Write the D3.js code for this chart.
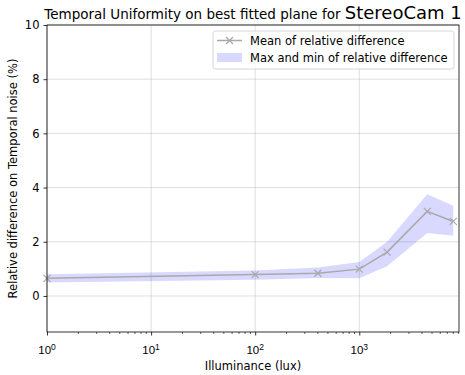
<!DOCTYPE html>
<html>
<head>
<meta charset="utf-8">
<script src="https://cdn.jsdelivr.net/npm/d3@7"></script>
<style>
  body { margin: 0; background: #fff; }
  svg { font-family: "DejaVu Sans", sans-serif; }
</style>
</head>
<body>
<svg id="chart" width="465" height="375"></svg>
<script>
// Illuminance levels (lux) and relative difference statistics (%)
const illuminance = [1, 100, 400, 1000, 1850, 4500, 8000];
const meanDiff    = [0.65, 0.79, 0.84, 0.99, 1.62, 3.12, 2.75];
const maxDiff     = [0.80, 0.94, 1.05, 1.25, 2.00, 3.75, 3.33];
const minDiff     = [0.50, 0.60, 0.66, 0.65, 1.10, 2.32, 2.22];
const yTicks = [0, 2, 4, 6, 8, 10];
const xTicks = [1, 10, 100, 1000];

const svg = d3.select("#chart");
const margin = { left: 47, right: 6, top: 25, bottom: 43 };
const W = 465, H = 375;
const FS = 11.5;

const x = d3.scaleLog().domain([1, 9080]).range([margin.left, W - margin.right]);
const y = d3.scaleLinear().domain([-1.33, 10]).range([H - margin.bottom, margin.top]);

const data = illuminance.map((v, i) => ({ x: v, mean: meanDiff[i], max: maxDiff[i], min: minDiff[i] }));

// grid
const grid = svg.append("g");
grid.selectAll("line.gx").data(xTicks).join("line")
  .attr("x1", d => x(d)).attr("x2", d => x(d))
  .attr("y1", y.range()[0]).attr("y2", y.range()[1])
  .attr("stroke", "#b0b0b0").attr("stroke-opacity", 0.5).attr("stroke-width", 0.8);
grid.selectAll("line.gy").data(yTicks).join("line")
  .attr("y1", d => y(d)).attr("y2", d => y(d))
  .attr("x1", x.range()[0]).attr("x2", x.range()[1])
  .attr("stroke", "#b0b0b0").attr("stroke-opacity", 0.5).attr("stroke-width", 0.8);

// band between min and max
svg.append("path").datum(data)
  .attr("d", d3.area().x(d => x(d.x)).y0(d => y(d.min)).y1(d => y(d.max)))
  .attr("fill", "blue").attr("fill-opacity", 0.15);

// mean line
svg.append("path").datum(data)
  .attr("d", d3.line().x(d => x(d.x)).y(d => y(d.mean)))
  .attr("fill", "none").attr("stroke", "#a9a9a9").attr("stroke-width", 1.5);

const cross = (g, cx, cy, s) => {
  g.append("path")
    .attr("d", `M${cx - s},${cy - s}L${cx + s},${cy + s}M${cx - s},${cy + s}L${cx + s},${cy - s}`)
    .attr("stroke", "#a9a9a9").attr("stroke-width", 1.2).attr("fill", "none");
};
const marks = svg.append("g");
data.forEach(d => cross(marks, x(d.x), y(d.mean), 3.5));

// axes
const xAxis = d3.axisBottom(x).tickValues(xTicks).tickSize(3.5).tickFormat(() => "");
const gx = svg.append("g").attr("transform", `translate(0,${y.range()[0]})`).call(xAxis);
gx.select(".domain").remove();
// minor ticks
const minor = [];
for (let e = 0; e < 4; e++) for (let k = 2; k <= 9; k++) { const v = k * Math.pow(10, e); if (v <= 9080) minor.push(v); }
gx.selectAll("line.minor").data(minor).join("line").attr("class", "minor")
  .attr("x1", d => x(d)).attr("x2", d => x(d)).attr("y1", 0).attr("y2", 2)
  .attr("stroke", "#000").attr("stroke-width", 0.6);
gx.selectAll(".tick line").attr("stroke-width", 0.8);
// x tick labels with superscript
xTicks.forEach(v => {
  const t = gx.append("text").attr("x", x(v)).attr("y", 22).attr("text-anchor", "middle")
    .attr("font-size", FS).attr("fill", "#000");
  t.append("tspan").text("10");
  t.append("tspan").attr("dy", -4.5).attr("font-size", 8.5).text(Math.round(Math.log10(v)));
});

const yAxis = d3.axisLeft(y).tickValues(yTicks).tickSize(3.5).tickPadding(4).tickFormat(d3.format("d"));
const gy = svg.append("g").attr("transform", `translate(${x.range()[0]},0)`).call(yAxis);
gy.select(".domain").remove();
gy.selectAll(".tick text").attr("font-size", FS).attr("font-family", "DejaVu Sans").attr("fill", "#000");
gy.selectAll(".tick line").attr("stroke-width", 0.8);

// frame
svg.append("rect")
  .attr("x", x.range()[0]).attr("y", y.range()[1])
  .attr("width", x.range()[1] - x.range()[0]).attr("height", y.range()[0] - y.range()[1])
  .attr("fill", "none").attr("stroke", "#000").attr("stroke-width", 0.8);

// labels
svg.append("text").attr("x", (x.range()[0] + x.range()[1]) / 2).attr("y", 370)
  .attr("text-anchor", "middle").attr("font-size", FS).text("Illuminance (lux)");
svg.append("text")
  .attr("transform", `translate(17,${(y.range()[0] + y.range()[1]) / 2}) rotate(-90)`)
  .attr("text-anchor", "middle").attr("font-size", FS).text("Relative difference on Temporal noise (%)");

const title = svg.append("text").attr("x", 253).attr("y", 19).attr("text-anchor", "middle");
title.append("tspan").attr("font-size", 13.5).text("Temporal Uniformity on best fitted plane for ");
title.append("tspan").attr("font-size", 18).text("StereoCam 1");

// legend
const lg = svg.append("g").attr("transform", "translate(213,31)");
lg.append("rect").attr("width", 241).attr("height", 38).attr("rx", 2.5)
  .attr("fill", "#fff").attr("fill-opacity", 0.8).attr("stroke", "#ccc").attr("stroke-width", 0.8);
lg.append("line").attr("x1", 4).attr("x2", 29).attr("y1", 9.5).attr("y2", 9.5)
  .attr("stroke", "#a9a9a9").attr("stroke-width", 1.5);
cross(lg, 16.5, 9.5, 3.5);
lg.append("rect").attr("x", 4).attr("y", 22).attr("width", 25).attr("height", 9)
  .attr("fill", "blue").attr("fill-opacity", 0.15);
lg.append("text").attr("x", 37).attr("y", 13.5).attr("font-size", FS).text("Mean of relative difference");
lg.append("text").attr("x", 37).attr("y", 31).attr("font-size", FS).text("Max and min of relative difference");
</script>
</body>
</html>
